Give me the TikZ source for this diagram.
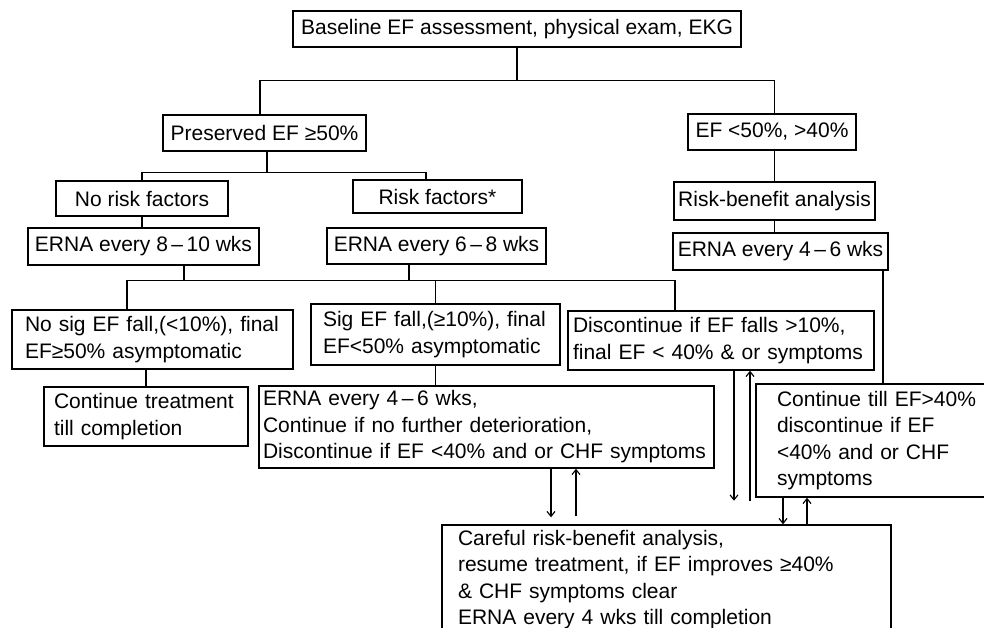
\documentclass[tikz,border=0pt]{standalone}
\usepackage{fontspec}
\setmainfont{Liberation Sans}
\usepackage{tikz}
\usetikzlibrary{arrows.meta}

\begin{document}
\begin{tikzpicture}[x=1pt, y=-1pt,
    flowbox/.style={draw, line width=1.4pt, inner sep=0pt,
      font=\fontsize{21}{26.5}\selectfont},
    conn/.style={line width=1.1pt},
    arrowline/.style={line width=1.1pt, -{Straight Barb[length=5pt,width=8pt]}}]
    \useasboundingbox (0,0) rectangle (984,628);
    \clip (0,0) rectangle (984,628);
    \node[flowbox, minimum width=448, minimum height=36] (base) at (517,29)
      {Baseline EF assessment, physical exam, EKG};
    \node[flowbox, minimum width=203, minimum height=36] (pres) at (264.5,133)
      {Preserved EF ≥50\%};
    \node[flowbox, minimum width=168, minimum height=36] (lowef) at (772,132)
      {EF <50\%, >40\%};
    \node[flowbox, minimum width=172, minimum height=35] (norisk) at (142,198.5)
      {No risk factors};
    \node[flowbox, minimum width=169, minimum height=33] (risk) at (437.5,196.5)
      {Risk factors*};
    \node[flowbox, minimum width=231, minimum height=37] (erna810) at (143.5,246.5)
      {ERNA every 8\,–\,10 wks};
    \node[flowbox, minimum width=219, minimum height=36] (erna68) at (436.5,246)
      {ERNA every 6\,–\,8 wks};
    \node[flowbox, minimum width=201, minimum height=38] (rba) at (774.5,201)
      {Risk-benefit analysis};
    \node[flowbox, minimum width=215, minimum height=37] (erna46) at (780.5,251.5)
      {ERNA every 4\,–\,6 wks};
    \node[flowbox, align=left, inner xsep=13, text width=255, minimum height=59]
      (nosig) at (152.5,339.5)
      {No sig EF fall,(<10\%), final\\EF≥50\% asymptomatic};
    \node[flowbox, align=left, inner xsep=12, text width=225, minimum height=61]
      (sig) at (435.5,334.5)
      {Sig EF fall,(≥10\%), final\\EF<50\% asymptomatic};
    \node[flowbox, align=left, inner xsep=5, text width=296, minimum height=59]
      (disc) at (721,340.5)
      {Discontinue if EF falls >10\%,\\final EF < 40\% \& or symptoms};
    \node[flowbox, align=left, inner xsep=10, text width=184, minimum height=59]
      (cont) at (146,416.5)
      {Continue treatment\\till completion};
    \node[flowbox, align=left, inner xsep=4, text width=447, minimum height=82]
      (erna46b) at (486.5,427)
      {ERNA every 4\,–\,6 wks,\\Continue if no further deterioration,\\
       Discontinue if EF <40\% and or CHF symptoms};
    \node[flowbox, align=left, inner xsep=21, text width=212, minimum height=113]
      (till) at (883,440.5)
      {Continue till EF>40\%\\discontinue if EF\\<40\% and or CHF\\symptoms};
    \node[flowbox, align=left, inner xsep=16, text width=417, minimum height=109]
      (careful) at (666.5,579.5)
      {Careful risk-benefit analysis,\\resume treatment, if EF improves ≥40\%\\
       \& CHF symptoms clear\\ERNA every 4 wks till completion};

    \draw[conn] (base.south) -- ++(0,33) coordinate (j1);
    \draw[conn] ([xshift=-4.5]pres.north) |- (j1) -| ([xshift=2.5]lowef.north);
    \draw[conn] ([xshift=2.5]pres.south) -- ++(0,21) coordinate (j2);
    \draw[conn] (norisk.north) |- (j2) -| ([xshift=-11.5]risk.north);
    \draw[conn] (norisk.south) -- (norisk.south |- erna810.north);
    \draw[conn] ([xshift=40.5]erna810.south) -- ++(0,15) coordinate (j3);
    \draw[conn] ([xshift=-27.5]erna68.south) -- ++(0,16);
    \draw[conn] ([xshift=-25.5]nosig.north) |- (j3) -| ([xshift=-46]disc.north);
    \draw[conn] (sig.north) -- (sig.north |- j3);
    \draw[conn] (cont.north) -- (cont.north |- nosig.south);
    \draw[conn] (sig.south) -- (sig.south |- erna46b.north);
    \draw[conn] (rba.north) -- (rba.north |- lowef.south);
    \draw[conn] (rba.south) -- (rba.south |- erna46.north);
    \draw[conn] ([xshift=102.5]erna46.south) coordinate (j4) -- (j4 |- till.north);

    \begin{scope}[arrowline]
      \draw ([xshift=64.5]erna46b.south) -- ([xshift=-115.5,yshift=7]careful.north);
      \draw ([xshift=-90.5,yshift=8]careful.north) -- ([xshift=89.5]erna46b.south);
      \draw ([xshift=13]disc.south) -- ([xshift=13,yshift=-130]disc.south);
      \draw ([xshift=29,yshift=-130]disc.south) -- ([xshift=29]disc.south);
      \draw ([xshift=-100]till.south) -- ([xshift=116.5]careful.north);
      \draw ([xshift=140.5]careful.north) -- ([xshift=-76]till.south);
    \end{scope}
  \end{tikzpicture}
\end{document}
